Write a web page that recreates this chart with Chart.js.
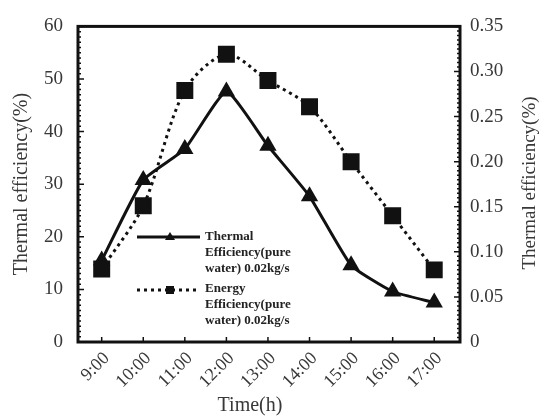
<!DOCTYPE html>
<html>
<head>
<meta charset="utf-8">
<script src="https://cdn.jsdelivr.net/npm/chart.js@4.4.0/dist/chart.umd.min.js"></script>
<style>
  html, body { margin: 0; padding: 0; background: #fff; }
  #wrap { width: 540px; height: 417px; }
</style>
</head>
<body>
<div id="wrap"><canvas id="myChart" width="540" height="417"></canvas></div>
<script>
const times = ['9:00', '10:00', '11:00', '12:00', '13:00', '14:00', '15:00', '16:00', '17:00'];
const thermalEff = [15.5, 30.8, 36.7, 47.6, 37.3, 27.7, 14.6, 9.6, 7.5];
const energyEff = [0.081, 0.151, 0.279, 0.319, 0.290, 0.261, 0.200, 0.140, 0.080];
const leftTicks = [0, 10, 20, 30, 40, 50, 60];
const rightTicks = [0, 0.05, 0.10, 0.15, 0.20, 0.25, 0.30, 0.35];
const legendThermal = ['Thermal', 'Efficiency(pure', 'water) 0.02kg/s'];
const legendEnergy = ['Energy', 'Efficiency(pure', 'water) 0.02kg/s'];

const serif = '"Liberation Serif", "DejaVu Serif", serif';
const ink = '#111';
const textGray = '#383838';

// box around the plot with small inward ticks
const frame = {
  id: 'frame',
  afterDraw(chart) {
    const { ctx, chartArea: a, scales } = chart;
    ctx.save();
    ctx.strokeStyle = ink;
    ctx.lineWidth = 1.5;
    ctx.beginPath();
    for (let v = 0; v <= 60; v++) {
      const y = scales.y.getPixelForValue(v);
      const len = v % 10 === 0 ? 6 : 3;
      ctx.moveTo(a.left, y); ctx.lineTo(a.left + len, y);
    }
    for (let k = 0; k <= 70; k++) {
      const y = scales.y1.getPixelForValue(k * 0.005);
      const len = k % 10 === 0 ? 6 : 3;
      ctx.moveTo(a.right, y); ctx.lineTo(a.right - len, y);
    }
    times.forEach((t, i) => {
      const x = scales.x.getPixelForValue(i);
      ctx.moveTo(x, a.bottom); ctx.lineTo(x, a.bottom - 5);
    });
    ctx.stroke();
    ctx.lineWidth = 3;
    ctx.strokeRect(a.left, a.top, a.right - a.left, a.bottom - a.top);
    ctx.restore();
  }
};

// axis titles (the right one reads bottom to top like the left one)
const titles = {
  id: 'titles',
  afterDraw(chart) {
    const ctx = chart.ctx;
    ctx.save();
    ctx.fillStyle = textGray;
    ctx.textAlign = 'center';
    ctx.textBaseline = 'middle';
    ctx.font = '20px ' + serif;
    ctx.fillText('Time(h)', 250, 406);
    ctx.translate(22, 184);
    ctx.rotate(-Math.PI / 2);
    ctx.fillText('Thermal efficiency(%)', 0, 0);
    ctx.restore();
    ctx.save();
    ctx.fillStyle = textGray;
    ctx.textAlign = 'center';
    ctx.textBaseline = 'middle';
    ctx.font = '19px ' + serif;
    ctx.translate(530, 183);
    ctx.rotate(-Math.PI / 2);
    ctx.fillText('Thermal efficiency(%)', 0, 0);
    ctx.restore();
  }
};

// legend inside the plot, wrapped over three lines per entry
const insideLegend = {
  id: 'insideLegend',
  afterDraw(chart) {
    const ctx = chart.ctx;
    const x0 = 137, x1 = 200, tx = 205;
    ctx.save();
    ctx.strokeStyle = ink;
    ctx.fillStyle = ink;
    ctx.lineWidth = 3;
    ctx.beginPath();
    ctx.moveTo(x0, 237); ctx.lineTo(x1, 237);
    ctx.stroke();
    ctx.beginPath();
    ctx.moveTo(170, 232); ctx.lineTo(175, 240); ctx.lineTo(165, 240);
    ctx.closePath(); ctx.fill();
    ctx.setLineDash([3, 4]);
    ctx.beginPath();
    ctx.moveTo(x0, 290); ctx.lineTo(x1, 290);
    ctx.stroke();
    ctx.setLineDash([]);
    ctx.fillRect(166, 286, 8, 8);

    ctx.fillStyle = '#222';
    ctx.font = 'bold 13px ' + serif;
    ctx.textBaseline = 'middle';
    legendThermal.forEach((s, i) => ctx.fillText(s, tx, 237 + i * 16));
    legendEnergy.forEach((s, i) => ctx.fillText(s, tx, 289 + i * 16));
    ctx.restore();
  }
};

const ctx = document.getElementById('myChart').getContext('2d');
new Chart(ctx, {
  type: 'line',
  data: {
    datasets: [
      {
        label: 'Energy Efficiency(pure water) 0.02kg/s',
        data: times.map((t, i) => ({ x: i, y: energyEff[i] })),
        yAxisID: 'y1',
        borderColor: ink,
        backgroundColor: ink,
        borderWidth: 3,
        borderDash: [3, 4],
        tension: 0.3,
        pointStyle: 'rect',
        pointRadius: 12,
        pointBorderWidth: 0,
        order: 0,
      },
      {
        label: 'Thermal Efficiency(pure water) 0.02kg/s',
        data: times.map((t, i) => ({ x: i, y: thermalEff[i] })),
        yAxisID: 'y',
        borderColor: ink,
        backgroundColor: ink,
        borderWidth: 3,
        tension: 0.15,
        pointStyle: 'triangle',
        pointRadius: 10,
        pointBorderWidth: 0,
        order: 1,
      },
    ],
  },
  options: {
    responsive: false,
    animation: false,
    devicePixelRatio: 1,
    layout: { padding: { top: 20, left: 0, right: 0, bottom: 0 } },
    plugins: { legend: { display: false }, tooltip: { enabled: false } },
    scales: {
      x: {
        type: 'linear',
        position: 'bottom',
        min: -0.57,
        max: 8.62,
        afterBuildTicks: (s) => { s.ticks = times.map((t, i) => ({ value: i })); },
        afterFit: (s) => { s.height = 75; },
        grid: { display: false, drawTicks: false },
        border: { display: false },
        ticks: {
          autoSkip: false,
          minRotation: 45,
          maxRotation: 45,
          padding: 6,
          labelOffset: 5,
          color: textGray,
          font: { family: serif, size: 18 },
          callback: (v) => times[v],
        },
      },
      y: {
        position: 'left',
        min: 0,
        max: 60,
        afterBuildTicks: (s) => { s.ticks = leftTicks.map((v) => ({ value: v })); },
        afterFit: (s) => { s.width = 78; },
        grid: { display: false, drawTicks: false },
        border: { display: false },
        ticks: { padding: 15, color: textGray, font: { family: serif, size: 19 } },
      },
      y1: {
        position: 'right',
        min: 0,
        max: 0.35,
        afterBuildTicks: (s) => { s.ticks = rightTicks.map((v) => ({ value: v })); },
        afterFit: (s) => { s.width = 80; },
        grid: { display: false, drawTicks: false },
        border: { display: false },
        ticks: {
          padding: 10,
          color: textGray,
          font: { family: serif, size: 19 },
          callback: (v) => (v === 0 ? '0' : v.toFixed(2)),
        },
      },
    },
  },
  plugins: [frame, titles, insideLegend],
});
</script>
</body>
</html>
